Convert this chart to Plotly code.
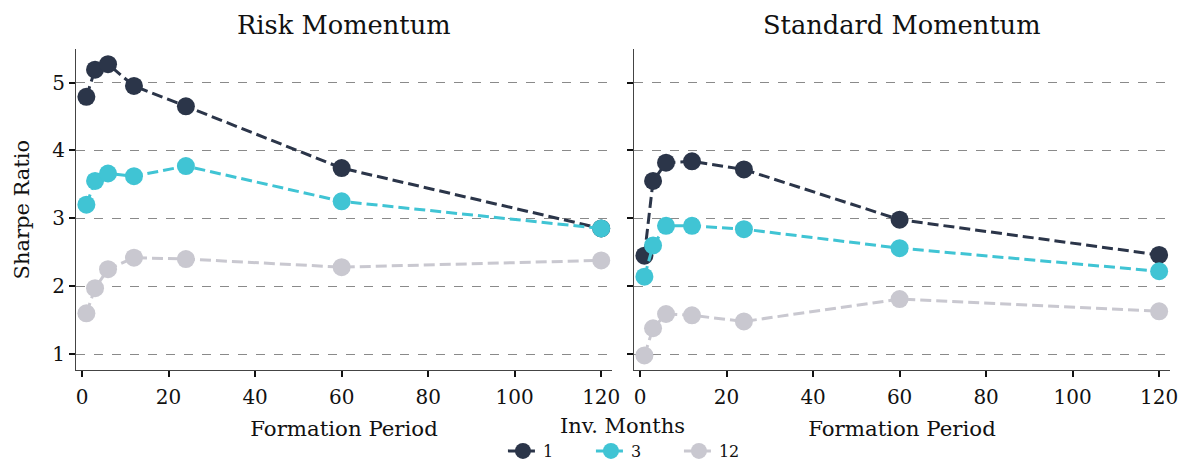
import plotly.graph_objects as go

formation = [1, 3, 6, 12, 24, 60, 120]
inv_months = ["1", "3", "12"]

risk_1 = [4.79, 5.19, 5.27, 4.95, 4.65, 3.74, 2.85]
risk_3 = [3.20, 3.55, 3.66, 3.62, 3.77, 3.25, 2.85]
risk_12 = [1.60, 1.97, 2.25, 2.42, 2.40, 2.28, 2.38]

std_1 = [2.45, 3.55, 3.82, 3.84, 3.72, 2.98, 2.46]
std_3 = [2.14, 2.60, 2.89, 2.89, 2.84, 2.56, 2.22]
std_12 = [0.98, 1.38, 1.59, 1.57, 1.48, 1.81, 1.63]

colors = ["#2b3549", "#40c4d4", "#c9c8d0"]
FONT = "DejaVu Serif"

fig = go.Figure()
panels = [(risk_1, risk_3, risk_12, "x", "y"), (std_1, std_3, std_12, "x2", "y2")]
for pi, (s1, s3, s12, xa, ya) in enumerate(panels):
    for si, (name, vals) in enumerate(zip(inv_months, [s1, s3, s12])):
        fig.add_trace(go.Scatter(
            x=formation, y=vals, mode="lines+markers", name=name,
            xaxis=xa, yaxis=ya, showlegend=(pi == 0),
            line=dict(color=colors[si], width=3, dash="11px,5px"),
            marker=dict(color=colors[si], size=18),
        ))

axis_common = dict(
    showline=True, linecolor="#444", linewidth=1.2, ticks="outside",
    ticklen=6, tickwidth=1.5, tickcolor="#111", zeroline=False, automargin=False,
    tickfont=dict(family=FONT, size=20, color="#111"),
)
xr = [-1.4, 122.5]
yr = [0.765, 5.49]
ydom = [1 - 370 / 460, 1 - 49.3 / 460]
xtitle = dict(text="Formation Period", font=dict(family=FONT, size=21.3, color="#111"), standoff=12)
fig.update_layout(
    width=1182, height=460, margin=dict(l=0, r=0, t=0, b=0, autoexpand=False),
    paper_bgcolor="white", plot_bgcolor="white",
    font=dict(family=FONT, color="#111"),
    xaxis=dict(domain=[0.0643, 0.5178], range=xr, tickvals=[0, 20, 40, 60, 80, 100, 120],
               showgrid=False, anchor="y", title=xtitle, ticklabelstandoff=3, **axis_common),
    xaxis2=dict(domain=[0.5364, 0.9898], range=xr, tickvals=[0, 20, 40, 60, 80, 100, 120],
                showgrid=False, anchor="y2", title=xtitle, ticklabelstandoff=3, **axis_common),
    yaxis=dict(domain=ydom, range=yr, tickvals=[1, 2, 3, 4, 5], anchor="x",
               showgrid=True, gridcolor="#8a8a8a", gridwidth=1, griddash="dash",
               title=dict(text="Sharpe Ratio", font=dict(family=FONT, size=21, color="#111"),
                          standoff=16),
               **axis_common),
    yaxis2=dict(domain=ydom, range=yr, tickvals=[1, 2, 3, 4, 5], anchor="x2",
                showticklabels=False,
                showgrid=True, gridcolor="#8a8a8a", gridwidth=1, griddash="dash",
                **axis_common),
    legend=dict(orientation="h", x=0.4255, xanchor="left", y=1 - 451 / 460, yanchor="middle",
                font=dict(family=FONT, size=16, color="#111"), entrywidth=43,
                entrywidthmode="pixels", bgcolor="rgba(0,0,0,0)"),
    annotations=[
        dict(text="Risk Momentum", x=0.291, y=1 - 25 / 460, xref="paper", yref="paper",
             xanchor="center", yanchor="middle",
             showarrow=False, font=dict(family=FONT, size=25.7, color="#111")),
        dict(text="Standard Momentum", x=0.763, y=1 - 25 / 460, xref="paper", yref="paper",
             xanchor="center", yanchor="middle",
             showarrow=False, font=dict(family=FONT, size=25.7, color="#111")),
        dict(text="Inv. Months", x=0.527, y=1 - 426 / 460, xref="paper", yref="paper",
             xanchor="center", yanchor="middle",
             showarrow=False, font=dict(family=FONT, size=21, color="#111")),
    ],
)

fig.write_html("out.html")
